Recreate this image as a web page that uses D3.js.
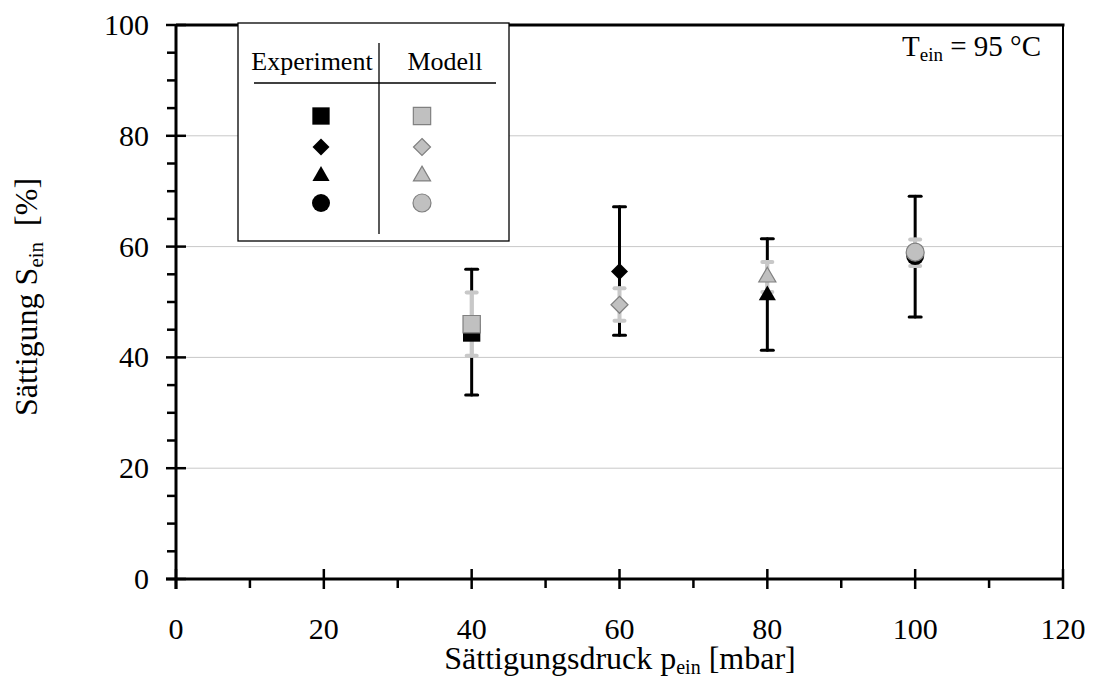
<!DOCTYPE html>
<html>
  <head>
    <style>
      body { margin: 0; background: #fff; }
      text { font-family: "Liberation Serif", "Times New Roman", serif; fill: #000; }
    </style>
  </head>

  <body>

    <svg class="surface" width="1093" height="678"></svg>

    <script src="https://cdn.jsdelivr.net/npm/d3@7/dist/d3.min.js" charset="utf-8"></script>
    <script>

      // data
      const pressures = [40, 60, 80, 100]
      const shapes = ['square', 'diamond', 'triangle', 'circle']
      const expValues = [44.4, 55.5, 51.2, 58.3]
      const expLow = [33.2, 44.0, 41.3, 47.3]
      const expHigh = [55.9, 67.2, 61.4, 69.1]
      const modValues = [46.0, 49.5, 54.5, 59.0]
      const modLow = [40.3, 46.6, 51.8, 56.5]
      const modHigh = [51.7, 52.5, 57.2, 61.3]
      const xTicks = [0, 20, 40, 60, 80, 100, 120]
      const yTicks = [0, 20, 40, 60, 80, 100]

      const svg = d3.select('.surface')
      const pLeft = 176, pRight = 1063, pTop = 25, pBottom = 579

      const x = d3.scaleLinear().domain([0, 120]).range([pLeft, pRight])
      const y = d3.scaleLinear().domain([0, 100]).range([pBottom, pTop])

      // grid
      svg.append('g').selectAll('line')
        .data([20, 40, 60, 80])
        .enter().append('line')
          .attr('x1', pLeft).attr('x2', pRight)
          .attr('y1', d => y(d)).attr('y2', d => y(d))
          .attr('stroke', '#c8c8c8').attr('stroke-width', 1)

      // frame (top + right)
      svg.append('line').attr('x1', pLeft).attr('x2', pRight + 1.5)
        .attr('y1', pTop).attr('y2', pTop).attr('stroke', '#000').attr('stroke-width', 3)
      svg.append('line').attr('x1', pRight).attr('x2', pRight)
        .attr('y1', pTop).attr('y2', pBottom + 10).attr('stroke', '#000').attr('stroke-width', 2)

      // axes
      const axes = svg.append('g').attr('stroke', '#000')
      axes.append('line').attr('x1', pLeft).attr('x2', pLeft)
        .attr('y1', pTop).attr('y2', pBottom + 10).attr('stroke-width', 3)
      axes.append('line').attr('x1', pLeft - 10).attr('x2', pRight)
        .attr('y1', pBottom).attr('y2', pBottom).attr('stroke-width', 3)

      axes.selectAll('.ymaj').data(yTicks).enter().append('line')
        .attr('x1', pLeft - 10).attr('x2', pLeft + 10)
        .attr('y1', d => y(d)).attr('y2', d => y(d)).attr('stroke-width', 2.5)
      axes.selectAll('.ymin').data(d3.range(5, 100, 5).filter(d => d % 20)).enter().append('line')
        .attr('x1', pLeft - 9).attr('x2', pLeft)
        .attr('y1', d => y(d)).attr('y2', d => y(d)).attr('stroke-width', 2.5)
      axes.selectAll('.xmaj').data(xTicks).enter().append('line')
        .attr('x1', d => x(d)).attr('x2', d => x(d))
        .attr('y1', pBottom - 10).attr('y2', pBottom + 10).attr('stroke-width', 2.5)
      axes.selectAll('.xmin').data(d3.range(10, 120, 20)).enter().append('line')
        .attr('x1', d => x(d)).attr('x2', d => x(d))
        .attr('y1', pBottom).attr('y2', pBottom + 9).attr('stroke-width', 2.5)

      svg.append('g').selectAll('text').data(yTicks).enter().append('text')
        .attr('x', pLeft - 27).attr('y', d => y(d) + 10)
        .attr('text-anchor', 'end').attr('font-size', 30).text(d => d)
      svg.append('g').selectAll('text').data(xTicks).enter().append('text')
        .attr('x', d => x(d)).attr('y', 639)
        .attr('text-anchor', 'middle').attr('font-size', 30).text(d => d)

      // axis titles
      const xt = svg.append('text').attr('x', 620).attr('y', 669)
        .attr('text-anchor', 'middle').attr('font-size', 32)
      xt.append('tspan').text('Sättigungsdruck p')
      xt.append('tspan').attr('font-size', 20).attr('dy', 5).text('ein')
      xt.append('tspan').attr('dy', -5).text(' [mbar]')

      const yt = svg.append('text').attr('transform', 'translate(37,297) rotate(-90)')
        .attr('text-anchor', 'middle').attr('font-size', 32)
      yt.append('tspan').text('Sättigung S')
      yt.append('tspan').attr('font-size', 21).attr('dy', 6).text('ein')
      yt.append('tspan').attr('dy', -6).text('\u00a0\u00a0[%]')

      const tt = svg.append('text').attr('x', 1041).attr('y', 56)
        .attr('text-anchor', 'end').attr('font-size', 29)
      tt.append('tspan').text('T')
      tt.append('tspan').attr('font-size', 19).attr('dy', 5).text('ein')
      tt.append('tspan').attr('dy', -5).text(' = 95 °C')

      // markers
      const sym = {
        square: d3.symbol(d3.symbolSquare, 300),
        diamond: d3.symbol(d3.symbolDiamond2, 185),
        triangle: d3.symbol(d3.symbolTriangle2, 210),
        circle: d3.symbol(d3.symbolCircle, 254)
      }

      function errorBars(lo, hi, color, w, cap) {
        const g = svg.append('g').attr('stroke', color).attr('stroke-width', w).attr('stroke-linecap', 'round')
        pressures.forEach((p, i) => {
          g.append('line').attr('x1', x(p)).attr('x2', x(p)).attr('y1', y(lo[i])).attr('y2', y(hi[i]))
          ;[lo[i], hi[i]].forEach(v => g.append('line')
            .attr('x1', x(p) - cap).attr('x2', x(p) + cap).attr('y1', y(v)).attr('y2', y(v)))
        })
      }

      errorBars(expLow, expHigh, '#000', 3, 6)
      errorBars(modLow, modHigh, '#c8c8c8', 4, 5)

      svg.append('g').selectAll('path').data(pressures).enter().append('path')
        .attr('transform', (d, i) => `translate(${x(d)},${y(expValues[i])})`)
        .attr('d', (d, i) => sym[shapes[i]]())
        .attr('fill', '#000')

      svg.append('g').selectAll('path').data(pressures).enter().append('path')
        .attr('transform', (d, i) => `translate(${x(d)},${y(modValues[i])})`)
        .attr('d', (d, i) => sym[shapes[i]]())
        .attr('fill', '#c0c0c0').attr('stroke', '#808080').attr('stroke-width', 1.2)

      // legend
      const lg = svg.append('g')
      lg.append('rect').attr('x', 238).attr('y', 23).attr('width', 271).attr('height', 218)
        .attr('fill', '#fff').attr('stroke', '#000').attr('stroke-width', 1.3)
      lg.append('line').attr('x1', 379).attr('x2', 379).attr('y1', 43).attr('y2', 234)
        .attr('stroke', '#000').attr('stroke-width', 1.3)
      lg.append('line').attr('x1', 254).attr('x2', 496).attr('y1', 83).attr('y2', 83)
        .attr('stroke', '#000').attr('stroke-width', 1.3)
      lg.append('text').attr('x', 312).attr('y', 70).attr('text-anchor', 'middle')
        .attr('font-size', 26).text('Experiment')
      lg.append('text').attr('x', 445).attr('y', 70).attr('text-anchor', 'middle')
        .attr('font-size', 26).text('Modell')

      const rowY = [116, 147, 176, 203]
      lg.selectAll('.le').data(shapes).enter().append('path')
        .attr('transform', (d, i) => `translate(321,${rowY[i]})`)
        .attr('d', d => sym[d]()).attr('fill', '#000')
      lg.selectAll('.lm').data(shapes).enter().append('path')
        .attr('transform', (d, i) => `translate(422,${rowY[i]})`)
        .attr('d', d => sym[d]())
        .attr('fill', '#c0c0c0').attr('stroke', '#808080').attr('stroke-width', 1.2)

    </script>
  </body>

</html>
